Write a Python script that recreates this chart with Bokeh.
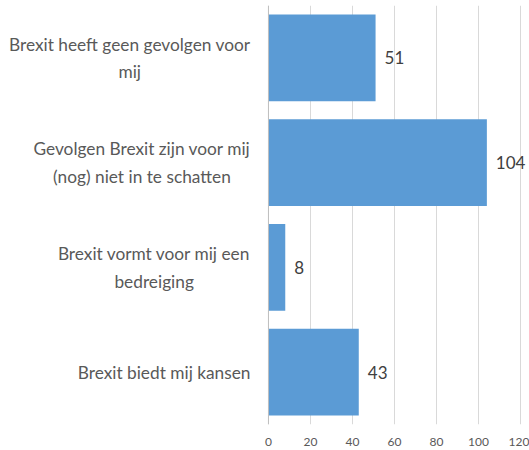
from bokeh.plotting import figure
from bokeh.models import ColumnDataSource, FixedTicker, Span
from bokeh.embed import file_html
from bokeh.resources import INLINE
from bokeh.core.properties import value

categories = [
    "Brexit heeft geen gevolgen voor\nmij",
    "Gevolgen Brexit zijn voor mij\n(nog) niet in te schatten",
    "Brexit vormt voor mij een\nbedreiging",
    "Brexit biedt mij kansen",
]
values = [51, 104, 8, 43]
x_ticks = [0, 20, 40, 60, 80, 100, 120]

order = list(reversed(categories))
src = ColumnDataSource(dict(cat=categories, val=values, lab=[str(v) for v in values],
                            zero=[0] * len(values)))

p = figure(width=529, height=448, y_range=order, x_range=(-127.6, 124.3),
           output_backend="svg", toolbar_location=None,
           min_border_left=0, min_border_right=0, min_border_top=5, min_border_bottom=23)
p.outline_line_color = None
p.background_fill_color = "white"
p.yaxis.visible = False

p.hbar(y="cat", right="val", left=0, height=0.83, source=src,
       fill_color="#5b9bd5", line_color=None)
p.add_layout(Span(location=0, dimension="height", line_color="#bfbfbf", line_width=1))
p.text(x="val", y="cat", text="lab", source=src, x_offset=9,
       text_align="left", text_baseline="middle",
       text_font=value("Lato"), text_font_size="17px", text_color="#404040")
p.text(x="zero", y="cat", text="cat", source=src, x_offset=-18,
       anchor="center_right", text_align="center", text_baseline="middle",
       text_line_height=1.3,
       text_font=value("Lato"), text_font_size="17.3px", text_color="#595959")

p.xaxis.ticker = FixedTicker(ticks=x_ticks)
p.xaxis.axis_line_color = None
p.xaxis.major_tick_line_color = None
p.xaxis.minor_tick_line_color = None
p.xaxis.major_label_text_font = "Lato"
p.xaxis.major_label_text_font_size = "12px"
p.xaxis.major_label_text_color = "#595959"
p.xaxis.major_label_standoff = 7

p.xgrid.grid_line_color = "#d9d9d9"
p.ygrid.grid_line_color = None

open("out.html", "w").write(file_html(p, INLINE))
